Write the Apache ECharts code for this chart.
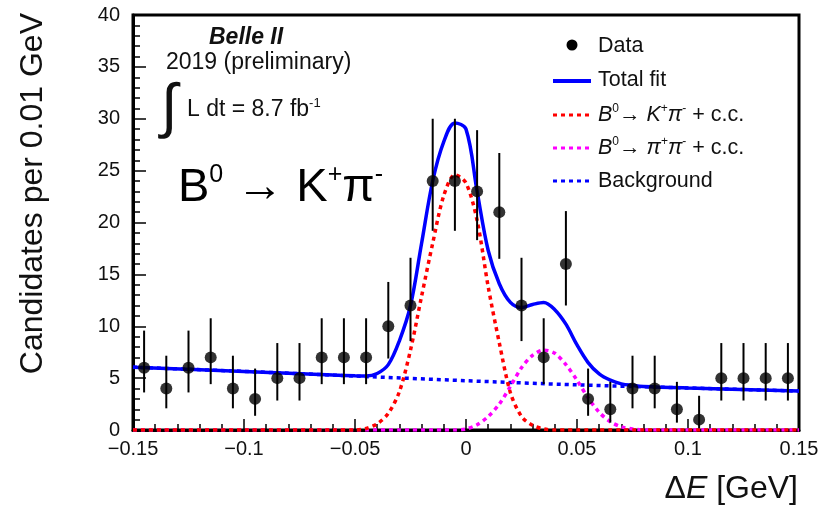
<!DOCTYPE html>
<html><head><meta charset="utf-8">
<script src="https://cdn.jsdelivr.net/npm/echarts/dist/echarts.min.js"></script>
<style>html,body{margin:0;padding:0;background:#fff}#c{width:839px;height:507px}</style>
</head><body><div id="c"></div>
<script>
// ---- data ----
const binCenters = [-0.145,-0.135,-0.125,-0.115,-0.105,-0.095,-0.085,-0.075,-0.065,-0.055,-0.045,-0.035,-0.025,-0.015,-0.005,0.005,0.015,0.025,0.035,0.045,0.055,0.065,0.075,0.085,0.095,0.105,0.115,0.125,0.135,0.145];
const counts     = [6,4,6,7,4,3,5,5,7,7,7,10,12,24,24,23,21,12,7,16,3,2,4,4,2,1,5,5,5,5];
const errLow     = [3.62,2.09,3.62,4.42,2.09,1.37,2.84,2.84,4.42,4.42,4.42,6.89,8.57,19.2,19.2,18.3,16.5,8.57,4.42,12.0,1.37,0.71,2.09,2.09,0.71,0.17,2.84,2.84,2.84,2.84];
const errHigh    = [9.58,7.16,9.58,10.77,7.16,5.92,8.38,8.38,10.77,10.77,10.77,14.27,16.6,30.0,30.0,28.9,26.7,16.6,10.77,21.1,5.92,4.64,7.16,7.16,4.64,3.3,8.38,8.38,8.38,8.38];

const curveX  = [-0.15,-0.1,-0.06,-0.05,-0.045,-0.04,-0.035,-0.03,-0.025,-0.02,-0.015,-0.01,-0.005,0,0.005,0.01,0.015,0.02,0.025,0.03,0.035,0.04,0.045,0.05,0.055,0.06,0.065,0.07,0.075,0.08,0.1,0.15];
const totalY  = [6.05,5.65,5.3,5.22,5.2,5.45,6.3,8.6,12.0,18.0,24.0,27.8,29.6,29.0,23.0,17.3,14.1,12.3,11.8,12.1,12.3,11.6,10.2,8.2,6.5,5.4,4.8,4.45,4.3,4.2,4.05,3.75];
const kpiY    = [0,0,0,0,0.15,0.6,1.6,3.7,7.7,12.9,18.0,22.6,24.6,23.8,20.2,13.8,8.4,3.6,1.3,0.45,0.1,0,0,0,0,0,0,0,0,0,0,0];
const pipiY   = [0,0,0,0,0,0,0,0,0,0,0,0,0,0.1,0.5,1.3,2.5,4.2,6.0,7.2,7.7,7.4,6.3,4.8,3.1,1.7,0.8,0.3,0.1,0,0,0];
const bkgX    = [-0.15,-0.1,-0.05,0,0.05,0.1,0.15];
const bkgY    = [6.05,5.65,5.2,4.75,4.35,4.05,3.75];

const xTicks      = [-0.15,-0.1,-0.05,0,0.05,0.1,0.15];
const xTickLabels = ['\u22120.15','\u22120.1','\u22120.05','0','0.05','0.1','0.15'];
const yTicks      = [0,5,10,15,20,25,30,35,40];
const yTickLabels = ['0','5','10','15','20','25','30','35','40'];

const legendNames = ['Data','Total fit','B0→ K+π- + c.c.','B0→ π+π- + c.c.','Background'];

// ---- chart ----
const FONT = '"Liberation Sans", Arial, Helvetica, sans-serif';
const TXT = '#111';
const chart = echarts.init(document.getElementById('c'), null, {renderer:'canvas'});
const pair = (xs, ys) => xs.map((x,i)=>[x, ys[i]]);

const curveStyle = (color, dashed, w) => ({color, width:w, type: dashed ? [4,4] : 'solid', cap:'butt'});
const T = (o) => Object.assign({align:'left', verticalAlign:'middle', textAlign:'left', textVerticalAlign:'middle', fill:TXT}, o);

const option = {
  animation:false,
  backgroundColor:'#fff',
  grid:{left:133, right:40, top:15, bottom:77, show:true, borderColor:'#000', borderWidth:3, backgroundColor:'transparent'},
  xAxis:{
    type:'value', min:xTicks[0], max:xTicks[xTicks.length-1], interval:0.05,
    axisLine:{show:true, onZero:false, lineStyle:{color:'#000', width:3}},
    axisTick:{show:true, inside:true, length:11, lineStyle:{color:'#000', width:1.5}},
    minorTick:{show:true, splitNumber:5, length:6, lineStyle:{color:'#000', width:1.5}},
    splitLine:{show:false}, minorSplitLine:{show:false},
    axisLabel:{show:true, margin:9, color:TXT, fontFamily:FONT, fontSize:20, showMinLabel:true, showMaxLabel:true,
      formatter:v=>{const i=Math.round((v-xTicks[0])/0.05); return xTickLabels[i]!==undefined?xTickLabels[i]:'';}}
  },
  yAxis:{
    type:'value', min:yTicks[0], max:yTicks[yTicks.length-1], interval:5,
    axisLine:{show:true, onZero:false, lineStyle:{color:'#000', width:3}},
    axisTick:{show:true, inside:true, length:13, lineStyle:{color:'#000', width:1.5}},
    minorTick:{show:true, splitNumber:5, length:7, lineStyle:{color:'#000', width:1.5}},
    splitLine:{show:false}, minorSplitLine:{show:false},
    axisLabel:{show:true, margin:13, color:TXT, fontFamily:FONT, fontSize:20,
      formatter:v=>{const i=Math.round(v/5); return yTickLabels[i]!==undefined?yTickLabels[i]:'';}}
  },
  series:[
    {name:legendNames[4], type:'line', data:pair(bkgX,bkgY), smooth:0.3, symbol:'none', lineStyle:curveStyle('#0000ff',true,3.5), z:2},
    {name:legendNames[3], type:'line', data:pair(curveX,pipiY), smooth:0.3, symbol:'none', lineStyle:curveStyle('#ff00ff',true,3.5), z:3},
    {name:legendNames[2], type:'line', data:pair(curveX,kpiY), smooth:0.3, symbol:'none', lineStyle:curveStyle('#ff0000',true,3.5), z:4},
    {name:legendNames[1], type:'line', data:pair(curveX,totalY), smooth:0.35, symbol:'none', lineStyle:curveStyle('#0000ff',false,3.5), z:5},
    {name:'errors', type:'custom', z:6,
      data:binCenters.map((x,i)=>[x,errLow[i],errHigh[i]]),
      encode:{x:0, y:[1,2]},
      renderItem:(params, api)=>{
        const x=api.value(0), lo=api.value(1), hi=api.value(2);
        const p1=api.coord([x,lo]), p2=api.coord([x,hi]);
        return {type:'line', shape:{x1:p1[0],y1:p1[1],x2:p2[0],y2:p2[1]}, style:{stroke:'#000', lineWidth:2}};
      }},
    {name:legendNames[0], type:'scatter', data:pair(binCenters,counts), symbol:'circle', symbolSize:12,
      itemStyle:{color:'#000'}, z:7}
  ],
  graphic:[
    // axis titles
    {type:'text', x:33, y:13, rotation:Math.PI/2,
      style:T({text:'Candidates per 0.01 GeV', font:'32px '+FONT, align:'right', textAlign:'right'})},
    {type:'text', x:798, y:489,
      style:T({text:'{n|Δ}{i|E}{n| [GeV]}', font:'32px '+FONT, align:'right', textAlign:'right',
        rich:{n:{fontSize:32, fontFamily:FONT, fill:TXT}, i:{fontSize:32, fontFamily:FONT, fontStyle:'italic', fill:TXT}}})},
    // Belle II annotation
    {type:'text', x:209, y:38, style:T({text:'Belle II', font:'italic bold 23px '+FONT})},
    {type:'text', x:166, y:63, style:T({text:'2019 (preliminary)', font:'23px '+FONT})},
    {type:'text', x:161, y:109, style:T({text:'∫', font:'60px '+FONT})},
    {type:'text', x:187, y:110,
      style:T({text:'{n|L dt = 8.7 fb}{s|-1}', font:'23px '+FONT,
        rich:{n:{fontSize:23, fontFamily:FONT, fill:TXT, lineHeight:27}, s:{fontSize:13, fontFamily:FONT, fill:TXT, verticalAlign:'top', lineHeight:13}}})},
    {type:'text', x:178, y:188,
      style:T({text:'{n|B}{s|0}{n| → K}{s|+}{n|π}{s|-}', font:'47px '+FONT, fill:'#000',
        rich:{n:{fontSize:47, fontFamily:FONT, fill:'#000', lineHeight:50}, s:{fontSize:25, fontFamily:FONT, fill:'#000', verticalAlign:'top', lineHeight:25}}})},
    // legend
    {type:'circle', shape:{cx:572, cy:45, r:5.5}, style:{fill:'#000'}},
    {type:'line', shape:{x1:553,y1:81,x2:591,y2:81}, style:{stroke:'#0000ff', lineWidth:4}},
    {type:'line', shape:{x1:553,y1:115,x2:591,y2:115}, style:{stroke:'#ff0000', lineWidth:3, lineDash:[4,4]}},
    {type:'line', shape:{x1:553,y1:148,x2:591,y2:148}, style:{stroke:'#ff00ff', lineWidth:3, lineDash:[4,4]}},
    {type:'line', shape:{x1:553,y1:181,x2:591,y2:181}, style:{stroke:'#0000ff', lineWidth:3, lineDash:[4,4]}},
    {type:'text', x:598, y:46, style:T({text:legendNames[0], font:'21.5px '+FONT})},
    {type:'text', x:598, y:80, style:T({text:legendNames[1], font:'21.5px '+FONT})},
    {type:'text', x:598, y:115, style:T({text:'{i|B}{s|0}{n|→ }{i|K}{s|+}{i|π}{s|-}{n| + c.c.}', font:'21.5px '+FONT,
      rich:{n:{fontSize:21.5, fontFamily:FONT, fill:TXT, lineHeight:24}, i:{fontSize:21.5, fontFamily:FONT, fontStyle:'italic', fill:TXT, lineHeight:24}, s:{fontSize:12, fontFamily:FONT, fill:TXT, verticalAlign:'top', lineHeight:12}}})},
    {type:'text', x:598, y:148, style:T({text:'{i|B}{s|0}{n|→ }{i|π}{s|+}{i|π}{s|-}{n| + c.c.}', font:'21.5px '+FONT,
      rich:{n:{fontSize:21.5, fontFamily:FONT, fill:TXT, lineHeight:24}, i:{fontSize:21.5, fontFamily:FONT, fontStyle:'italic', fill:TXT, lineHeight:24}, s:{fontSize:12, fontFamily:FONT, fill:TXT, verticalAlign:'top', lineHeight:12}}})},
    {type:'text', x:598, y:181, style:T({text:legendNames[4], font:'21.5px '+FONT})}
  ]
};
chart.setOption(option);
</script>
</body></html>
